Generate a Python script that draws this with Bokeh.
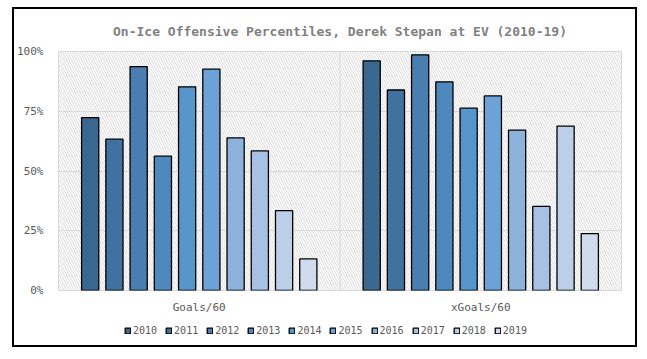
from bokeh.plotting import figure
from bokeh.layouts import column
from bokeh.models import (ColumnDataSource, FactorRange, Range1d, FixedTicker,
                          PrintfTickFormatter, BoxAnnotation, Span, Legend, LegendItem)
from bokeh.transform import dodge
from bokeh.embed import file_html
from bokeh.resources import INLINE

categories = ["Goals/60", "xGoals/60"]
years = ["2010", "2011", "2012", "2013", "2014", "2015", "2016", "2017", "2018", "2019"]
goals_pct = [72.3, 63.3, 93.7, 56.2, 85.2, 92.6, 63.9, 58.4, 33.4, 13.2]
xgoals_pct = [96.1, 83.9, 98.6, 87.3, 76.3, 81.4, 67.1, 35.2, 68.8, 23.8]
colors = ["#3b6890", "#41729f", "#4a7eb1", "#4f88bd", "#5795ca",
          "#6da2d6", "#8db3dc", "#a6c1e4", "#bccfe8", "#d0dcee"]
y_ticks = [0, 25, 50, 75, 100]

data = {"cat": categories}
for i, yr in enumerate(years):
    data["y" + yr] = [goals_pct[i], xgoals_pct[i]]
source = ColumnDataSource(data)

FONT = "DejaVu Sans Mono"
GRAY = "#595959"

p = figure(width=621, height=307, x_range=FactorRange(*categories, range_padding=0),
           y_range=Range1d(0, 100), output_backend="svg", toolbar_location=None,
           min_border_left=43, min_border_right=14, min_border_top=0, min_border_bottom=25,
           title="On-Ice Offensive Percentiles, Derek Stepan at EV (2010-19)")

p.title.align = "center"
p.title.text_font = FONT
p.title.text_font_size = "13px"
p.title.text_font_style = "bold"
p.title.text_color = "#7f7f7f"
p.title.standoff = 25

p.outline_line_color = "#d9d9d9"
p.outline_line_width = 1

hatch = BoxAnnotation(fill_color=None, line_color=None, hatch_pattern="\\",
                      hatch_color="#d9d9d9", hatch_scale=5, hatch_weight=1, level="image")
p.add_layout(hatch)

p.ygrid.grid_line_color = "#d9d9d9"
p.ygrid.ticker = FixedTicker(ticks=y_ticks)
p.xgrid.grid_line_color = None
p.add_layout(Span(location=1, dimension="height", line_color="#d9d9d9", line_width=1, level="underlay"))

pitch = 0.0861
for i, yr in enumerate(years):
    off = (i - 4.5) * pitch
    p.vbar(x=dodge("cat", off, range=p.x_range), top="y" + yr, width=0.061,
           source=source, fill_color=colors[i], line_color="black", line_width=1.3)

p.yaxis.ticker = FixedTicker(ticks=y_ticks)
p.yaxis.formatter = PrintfTickFormatter(format="%d%%")
for ax in (p.xaxis, p.yaxis):
    ax.axis_line_color = None
    ax.major_tick_line_color = None
    ax.minor_tick_line_color = None
    ax.major_label_text_font = FONT
    ax.major_label_text_font_size = "11px"
    ax.major_label_text_color = GRAY
p.yaxis.major_label_standoff = 9
p.xaxis.major_label_standoff = 4

# legend strip below the chart
lp = figure(width=621, height=29, x_range=p.x_range, y_range=Range1d(0, 100),
            output_backend="svg", toolbar_location=None,
            x_axis_location=None, y_axis_location=None,
            min_border_left=0, min_border_right=0, min_border_top=0, min_border_bottom=0)
lp.grid.visible = False
lp.outline_line_color = None
items = []
for i, yr in enumerate(years):
    r = lp.vbar(x=dodge("cat", 0, range=lp.x_range), top="y" + yr, width=0.061,
                source=source, fill_color=colors[i], line_color="black", line_width=1.3,
                visible=False)
    items.append(LegendItem(label=yr, renderers=[r]))
legend = Legend(items=items, orientation="horizontal", location=(66, 9),
                glyph_width=7, glyph_height=7, label_standoff=2, spacing=8,
                label_text_font=FONT, label_text_font_size="10px", label_text_color=GRAY,
                border_line_color=None, background_fill_alpha=0, padding=2, margin=0,
                inactive_fill_alpha=0)
lp.add_layout(legend, "center")

layout = column(p, lp, spacing=0)
layout.margin = (7, 0, 0, 12)
layout.styles = {"border": "2px solid black"}

open("out.html", "w").write(file_html(layout, INLINE))
